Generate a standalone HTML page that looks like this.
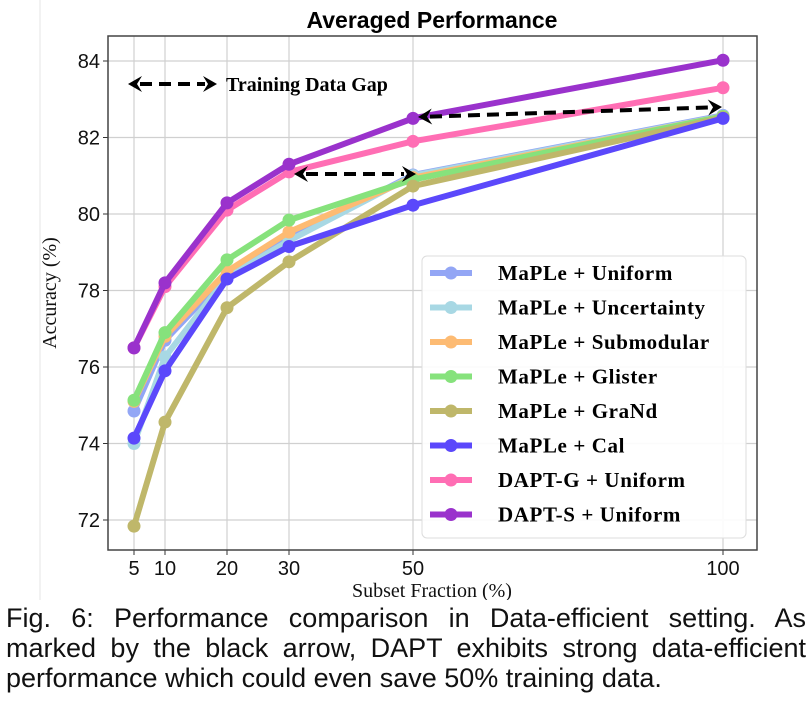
<!DOCTYPE html>
<html><head><meta charset="utf-8"><style>
body{margin:0;background:#fff;width:812px;height:707px;overflow:hidden;position:relative;font-family:"Liberation Sans",sans-serif}
#cap{position:absolute;left:6px;top:603px;width:800px;font-size:27px;line-height:30px;color:#111}
#cap div{white-space:nowrap}
#cap .j{text-align:justify;text-align-last:justify}
</style></head><body>
<svg id="chart" width="812" height="600" style="position:absolute;left:0;top:0"></svg>
<div id="cap"><div class="j">Fig. 6: Performance comparison in Data-efficient setting. As</div><div class="j">marked by the black arrow, DAPT exhibits strong data-efficient</div><div>performance which could even save 50% training data.</div></div>
<script>
const xCats=[5,10,20,30,50,100];
const yTicks=[72,74,76,78,80,82,84];
const seriesNames=["MaPLe + Uniform","MaPLe + Uncertainty","MaPLe + Submodular","MaPLe + Glister","MaPLe + GraNd","MaPLe + Cal","DAPT-G + Uniform","DAPT-S + Uniform"];
const seriesColors=["#93a6f5","#a8d8e4","#fdbb73","#86e27c","#bfb76a","#5b48fb","#ff6eb4","#9a32cc"];
const vUniform=[74.85,76.7,78.4,79.37,81.02,82.58];
const vUncertainty=[74.0,76.26,78.35,79.3,81.0,82.56];
const vSubmodular=[75.1,76.8,78.5,79.53,80.95,82.55];
const vGlister=[75.13,76.9,78.8,79.84,80.9,82.55];
const vGrand=[71.84,74.56,77.55,78.75,80.73,82.52];
const vCal=[74.14,75.9,78.3,79.15,80.23,82.5];
const vDaptG=[76.5,78.1,80.1,81.1,81.9,83.3];
const vDaptS=[76.5,78.2,80.29,81.3,82.5,84.02];
const allSeries=[vUniform,vUncertainty,vSubmodular,vGlister,vGrand,vCal,vDaptG,vDaptS];
const NS="http://www.w3.org/2000/svg";
const svg=document.getElementById('chart');
const L=108,R=757,T=36,B=550;
const xs=v=>134+(v-5)*(723-134)/95;
const ys=v=>61+(84-v)*38.25;
function mk(t,a,p){const e=document.createElementNS(NS,t);for(const k in a)e.setAttribute(k,a[k]);(p||svg).appendChild(e);return e;}
let fl=mk('line',{x1:40,y1:0,x2:40,y2:600,stroke:'#e4e4e4','stroke-width':1});


xCats.forEach(c=>{const g=mk('line',{x1:xs(c),y1:T,x2:xs(c),y2:B,stroke:'#d0d0d0','stroke-width':1.2});


const tk=mk('line',{x1:xs(c),y1:B,x2:xs(c),y2:B+5,stroke:'#333'});


const t=mk('text',{x:xs(c),y:B+25,'text-anchor':'middle','font-size':20,fill:'#111'});t.textContent=c;

});
yTicks.forEach(v=>{const g=mk('line',{x1:L,y1:ys(v),x2:R,y2:ys(v),stroke:'#d0d0d0','stroke-width':1.2});


const tk=mk('line',{x1:L-5,y1:ys(v),x2:L,y2:ys(v),stroke:'#333'});


const t=mk('text',{x:L-8,y:ys(v)+7,'text-anchor':'end','font-size':20,fill:'#111'});t.textContent=v;

});
const frame=mk('rect',{x:L,y:T,width:R-L,height:B-T,fill:'none',stroke:'#444','stroke-width':1.5});


allSeries.forEach((s,i)=>{const g=mk('g',{});


mk('polyline',{points:s.map((v,j)=>xs(xCats[j])+','+ys(v)).join(' '),fill:'none',stroke:seriesColors[i],'stroke-width':6,'stroke-linejoin':'round'},g);
s.forEach((v,j)=>{const c=mk('circle',{cx:xs(xCats[j]),cy:ys(v),r:6.5,fill:seriesColors[i]},g);

});});
function arrow(x1,y1,x2,y2,name){const g=mk('g',{});


const a=Math.atan2(y2-y1,x2-x1),h=12;
mk('line',{x1:x1+h*Math.cos(a),y1:y1+h*Math.sin(a),x2:x2-h*Math.cos(a),y2:y2-h*Math.sin(a),stroke:'#000','stroke-width':4,'stroke-dasharray':'12,7'},g);
[[x1,y1,a+Math.PI],[x2,y2,a]].forEach(([px,py,d])=>{mk('polygon',{points:`${px},${py} ${px-14*Math.cos(d)+8*Math.sin(d)},${py-14*Math.sin(d)-8*Math.cos(d)} ${px-9*Math.cos(d)},${py-9*Math.sin(d)} ${px-14*Math.cos(d)-8*Math.sin(d)},${py-14*Math.sin(d)+8*Math.cos(d)}`,fill:'#000'},g);});}
arrow(128,84,217,84,'legend-gap-arrow');
arrow(294,174,416,174,'gap-arrow-30-50');
arrow(418,117,722,107,'gap-arrow-50-100');
const tg=mk('text',{x:226,y:91,'font-family':'Liberation Serif,serif','font-weight':'bold','font-size':20,fill:'#000'});tg.textContent='Training Data Gap';


const ti=mk('text',{x:432,y:28,'text-anchor':'middle','font-weight':'bold','font-size':23,fill:'#000'});ti.textContent='Averaged Performance';


const xl=mk('text',{x:432,y:597,'text-anchor':'middle','font-family':'Liberation Serif,serif','font-size':20,fill:'#111'});xl.textContent='Subset Fraction (%)';


const yl=mk('text',{x:0,y:0,transform:'translate(56,293) rotate(-90)','text-anchor':'middle','font-family':'Liberation Serif,serif','font-size':20,fill:'#111'});yl.textContent='Accuracy (%)';


const lg=mk('g',{});


mk('rect',{x:422,y:256,width:324,height:282,rx:5,fill:'#fff','fill-opacity':0.9,stroke:'#ddd'},lg);
seriesNames.forEach((n,i)=>{const y=273+i*34.5;const e=mk('g',{},lg);


mk('line',{x1:430,y1:y,x2:472,y2:y,stroke:seriesColors[i],'stroke-width':6},e);
mk('circle',{cx:451,cy:y,r:6.5,fill:seriesColors[i]},e);
const t=mk('text',{x:498,y:y+7,'font-family':'Liberation Serif,serif','font-weight':'bold','font-size':21,'letter-spacing':'0.6',fill:'#000'},e);t.textContent=n;});
</script>
</body></html>
